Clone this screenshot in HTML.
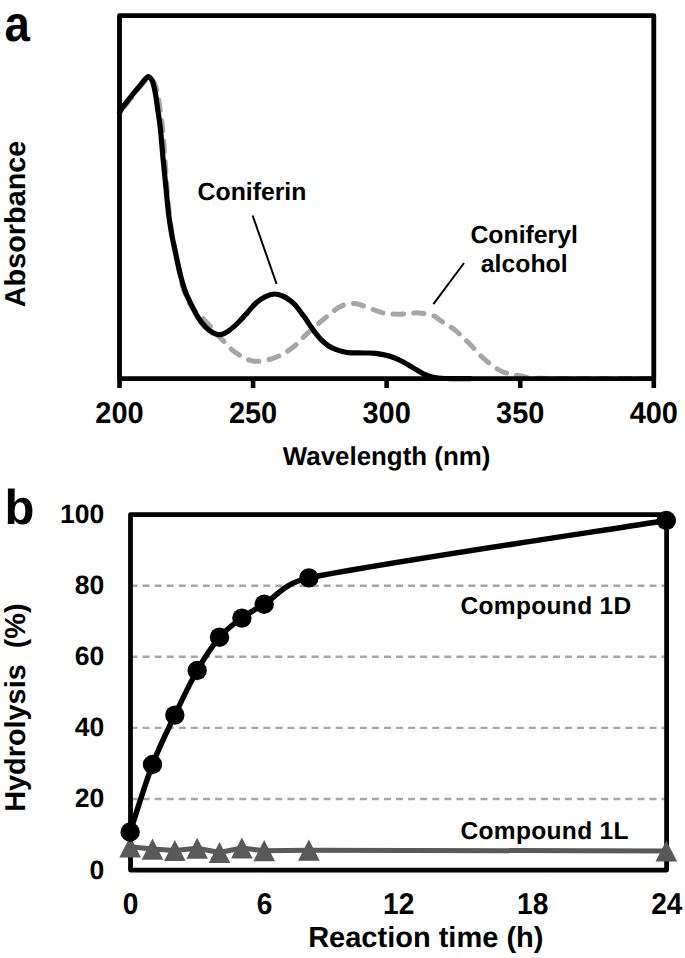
<!DOCTYPE html>
<html><head><meta charset="utf-8"><style>
html,body{margin:0;padding:0;background:#fff;width:685px;height:958px;overflow:hidden}
svg{display:block}
text{font-family:"Liberation Sans",sans-serif;font-weight:bold;fill:#000;text-rendering:geometricPrecision}
</style></head><body>
<svg width="685" height="958" viewBox="0 0 685 958">
<rect width="685" height="958" fill="#fff"/>
<!-- panel a -->
<text transform="translate(4.6,41.2) scale(0.91,1)" font-size="50">a</text>
<text transform="translate(25,307.3) rotate(-90)" font-size="28.85">Absorbance</text>
<g font-size="30"><text transform="translate(119.50,422.8) scale(0.965,1)" text-anchor="middle">200</text><text transform="translate(253.07,422.8) scale(0.965,1)" text-anchor="middle">250</text><text transform="translate(386.65,422.8) scale(0.965,1)" text-anchor="middle">300</text><text transform="translate(520.23,422.8) scale(0.965,1)" text-anchor="middle">350</text><text transform="translate(653.80,422.8) scale(0.965,1)" text-anchor="middle">400</text></g>
<text x="386.6" y="464.8" font-size="25.9" text-anchor="middle">Wavelength (nm)</text>
<path d="M119.50 114.20 C120.00 113.43 120.57 112.33 122.50 109.60 C124.43 106.87 128.33 101.40 131.10 97.80 C133.87 94.20 136.70 90.92 139.10 88.00 C141.50 85.08 143.80 81.93 145.50 80.30 C147.20 78.67 147.85 77.83 149.30 78.20 C150.75 78.57 152.80 79.87 154.20 82.50 C155.60 85.13 156.70 89.42 157.70 94.00 C158.70 98.58 159.38 104.20 160.20 110.00 C161.02 115.80 161.82 120.97 162.60 128.80 C163.38 136.63 164.20 147.63 164.90 157.00 C165.60 166.37 166.07 175.67 166.80 185.00 C167.53 194.33 168.47 205.17 169.30 213.00 C170.13 220.83 170.80 225.67 171.80 232.00 C172.80 238.33 174.10 244.67 175.30 251.00 C176.50 257.33 177.80 264.17 179.00 270.00 C180.20 275.83 181.17 281.33 182.50 286.00 C183.83 290.67 185.25 294.17 187.00 298.00 C188.75 301.83 190.33 305.58 193.00 309.00 C195.67 312.42 200.08 315.58 203.00 318.50 C205.92 321.42 208.33 324.00 210.50 326.50 C212.67 329.00 213.93 331.18 216.00 333.50 C218.07 335.82 219.70 337.27 222.90 340.40 C226.10 343.53 230.15 348.85 235.20 352.30 C240.25 355.75 246.78 360.13 253.20 361.10 C259.62 362.07 267.40 360.15 273.70 358.10 C280.00 356.05 285.78 352.53 291.00 348.80 C296.22 345.07 299.88 340.37 305.00 335.70 C310.12 331.03 316.15 325.47 321.70 320.80 C327.25 316.13 334.08 310.47 338.30 307.70 C342.52 304.93 344.63 304.88 347.00 304.20 C349.37 303.52 350.58 303.60 352.50 303.60 C354.42 303.60 354.30 302.93 358.50 304.20 C362.70 305.47 373.12 309.67 377.70 311.20 C382.28 312.73 382.62 312.90 386.00 313.40 C389.38 313.90 394.00 314.18 398.00 314.20 C402.00 314.22 406.50 313.72 410.00 313.50 C413.50 313.28 415.23 312.57 419.00 312.90 C422.77 313.23 429.17 314.32 432.60 315.50 C436.03 316.68 435.82 317.52 439.60 320.00 C443.38 322.48 450.35 326.47 455.30 330.40 C460.25 334.33 464.52 338.87 469.30 343.60 C474.08 348.33 478.63 354.20 484.00 358.80 C489.37 363.40 495.50 368.37 501.50 371.20 C507.50 374.03 513.58 374.62 520.00 375.80 C526.42 376.98 526.67 377.83 540.00 378.30 C553.33 378.77 581.17 378.55 600.00 378.60 C618.83 378.65 644.17 378.60 653.00 378.60" fill="none" stroke="#a6a6a6" stroke-width="5" stroke-linecap="round" stroke-dasharray="10.50 10.15" stroke-dashoffset="10.50"/>
<path d="M119.50 112.60 C120.00 111.77 120.57 110.32 122.50 107.60 C124.43 104.88 128.33 99.78 131.10 96.30 C133.87 92.82 136.70 89.60 139.10 86.70 C141.50 83.80 143.92 80.58 145.50 78.90 C147.08 77.22 147.47 76.23 148.60 76.60 C149.73 76.97 151.18 78.35 152.30 81.10 C153.42 83.85 154.38 88.28 155.30 93.10 C156.22 97.92 156.95 104.05 157.80 110.00 C158.65 115.95 159.55 120.97 160.40 128.80 C161.25 136.63 162.02 147.60 162.90 157.00 C163.78 166.40 164.77 175.82 165.70 185.20 C166.63 194.58 167.57 205.48 168.50 213.30 C169.43 221.12 170.20 225.83 171.30 232.10 C172.40 238.37 173.78 244.62 175.10 250.90 C176.42 257.18 178.02 264.67 179.20 269.80 C180.38 274.93 181.05 277.75 182.20 281.70 C183.35 285.65 184.53 289.58 186.10 293.50 C187.67 297.42 189.65 301.28 191.60 305.20 C193.55 309.12 195.58 313.47 197.80 317.00 C200.02 320.53 202.42 323.80 204.90 326.40 C207.38 329.00 210.12 331.22 212.70 332.60 C215.28 333.98 217.68 335.03 220.40 334.70 C223.12 334.37 225.93 332.72 229.00 330.60 C232.07 328.48 235.72 325.03 238.80 322.00 C241.88 318.97 244.58 315.60 247.50 312.40 C250.42 309.20 253.38 305.40 256.30 302.80 C259.22 300.20 261.95 298.27 265.00 296.80 C268.05 295.33 271.67 294.13 274.60 294.00 C277.53 293.87 280.05 294.95 282.60 296.00 C285.15 297.05 287.72 298.73 289.90 300.30 C292.08 301.87 294.00 303.57 295.70 305.40 C297.40 307.23 298.50 309.17 300.10 311.30 C301.70 313.43 303.62 315.82 305.30 318.20 C306.98 320.58 308.43 323.03 310.20 325.60 C311.97 328.17 313.97 331.15 315.90 333.60 C317.83 336.05 319.72 338.28 321.80 340.30 C323.88 342.32 326.08 344.20 328.40 345.70 C330.72 347.20 333.27 348.32 335.70 349.30 C338.13 350.28 340.57 351.02 343.00 351.60 C345.43 352.18 346.83 352.57 350.30 352.80 C353.77 353.03 359.50 352.92 363.80 353.00 C368.10 353.08 371.73 352.75 376.10 353.30 C380.47 353.85 385.63 354.93 390.00 356.30 C394.37 357.67 398.48 359.60 402.30 361.50 C406.12 363.40 409.38 365.65 412.90 367.70 C416.42 369.75 420.20 372.25 423.40 373.80 C426.60 375.35 428.50 376.22 432.10 377.00 C435.70 377.78 438.68 378.22 445.00 378.50 C451.32 378.78 465.83 378.67 470.00 378.70" fill="none" stroke="#000" stroke-width="5.2" stroke-linecap="round" stroke-linejoin="round"/>
<path d="M119.5 15.7 H653.8 V378.7 H119.5 Z" fill="none" stroke="#000" stroke-width="4.8" stroke-linejoin="round"/>
<path d="M119.50 378.7 V388 M253.07 378.7 V388 M386.65 378.7 V388 M520.23 378.7 V388 M653.80 378.7 V388 " stroke="#000" stroke-width="4.6" fill="none"/>
<text x="252" y="200" font-size="24.8" text-anchor="middle">Coniferin</text>
<line x1="252.6" y1="215.5" x2="276.6" y2="284" stroke="#000" stroke-width="2"/>
<text x="524.2" y="243.1" font-size="24.8" text-anchor="middle">Coniferyl</text>
<text x="524.2" y="272.3" font-size="24.8" text-anchor="middle">alcohol</text>
<line x1="464" y1="263" x2="433.4" y2="304.2" stroke="#000" stroke-width="2"/>
<!-- panel b -->
<text x="4.5" y="524" font-size="49">b</text>
<text transform="translate(24.8,811.8) rotate(-90)" font-size="28.85" xml:space="preserve">Hydrolysis  (%)</text>
<g font-size="26.5"><text x="104.2" y="878.50" text-anchor="end">0</text><text x="104.2" y="807.40" text-anchor="end">20</text><text x="104.2" y="736.30" text-anchor="end">40</text><text x="104.2" y="665.20" text-anchor="end">60</text><text x="104.2" y="594.10" text-anchor="end">80</text><text x="104.2" y="523.00" text-anchor="end">100</text></g>
<g font-size="30.2"><text transform="translate(130.60,913.7) scale(0.93,1)" text-anchor="middle">0</text><text transform="translate(264.64,913.7) scale(0.93,1)" text-anchor="middle">6</text><text transform="translate(398.68,913.7) scale(0.93,1)" text-anchor="middle">12</text><text transform="translate(532.72,913.7) scale(0.93,1)" text-anchor="middle">18</text><text transform="translate(666.76,913.7) scale(0.93,1)" text-anchor="middle">24</text></g>
<text x="425.8" y="947.2" font-size="29" text-anchor="middle">Reaction time (h)</text>
<g stroke="#a6a6a6" stroke-width="2.4" stroke-dasharray="7 5.07"><line x1="130.5" x2="666.6" y1="799.00" y2="799.00"/><line x1="130.5" x2="666.6" y1="727.90" y2="727.90"/><line x1="130.5" x2="666.6" y1="656.80" y2="656.80"/><line x1="130.5" x2="666.6" y1="585.70" y2="585.70"/></g>
<path d="M130.5 514.6 H666.6 V870.1 H130.5 Z" fill="none" stroke="#000" stroke-width="4.8" stroke-linejoin="round"/>
<text x="460.4" y="613.9" font-size="24.5" letter-spacing="0.35">Compound 1D</text>
<text x="460.4" y="838.8" font-size="24.5" letter-spacing="0.35">Compound 1L</text>
<polyline points="130.15,846.85 152.49,849.05 174.83,850.50 197.17,848.25 219.51,852.50 241.86,848.00 264.20,850.65 308.88,850.15 666.33,851.00" fill="none" stroke="#595959" stroke-width="5" stroke-linejoin="round"/>
<g fill="#595959"><path d="M130.15 836.25 L140.95 857.45 L119.35 857.45 Z"/><path d="M152.49 838.45 L163.29 859.65 L141.69 859.65 Z"/><path d="M174.83 839.90 L185.63 861.10 L164.03 861.10 Z"/><path d="M197.17 837.65 L207.97 858.85 L186.37 858.85 Z"/><path d="M219.51 841.90 L230.31 863.10 L208.71 863.10 Z"/><path d="M241.86 837.40 L252.66 858.60 L231.06 858.60 Z"/><path d="M264.20 840.05 L275.00 861.25 L253.40 861.25 Z"/><path d="M308.88 839.55 L319.68 860.75 L298.08 860.75 Z"/><path d="M666.33 840.40 L677.13 861.60 L655.53 861.60 Z"/></g>
<path d="M130.15 832.00 C133.87 820.75 145.04 783.98 152.49 764.50 C159.94 745.02 167.38 730.77 174.83 715.10 C182.28 699.43 189.73 683.48 197.17 670.50 C204.62 657.52 212.07 645.93 219.51 637.20 C226.96 628.47 234.41 623.60 241.86 618.10 C249.30 612.60 253.03 610.90 264.20 604.20 C275.37 597.50 283.50 583.18 308.88 577.90 C375.90 563.95 606.76 530.07 666.33 520.50" fill="none" stroke="#000" stroke-width="5.5" stroke-linejoin="round"/>
<g fill="#000"><circle cx="130.15" cy="832.00" r="9.7"/><circle cx="152.49" cy="764.50" r="9.7"/><circle cx="174.83" cy="715.10" r="9.7"/><circle cx="197.17" cy="670.50" r="9.7"/><circle cx="219.51" cy="637.20" r="9.7"/><circle cx="241.86" cy="618.10" r="9.7"/><circle cx="264.20" cy="604.20" r="9.7"/><circle cx="308.88" cy="577.90" r="9.7"/><circle cx="666.33" cy="520.50" r="9.7"/></g>
</svg>
</body></html>
